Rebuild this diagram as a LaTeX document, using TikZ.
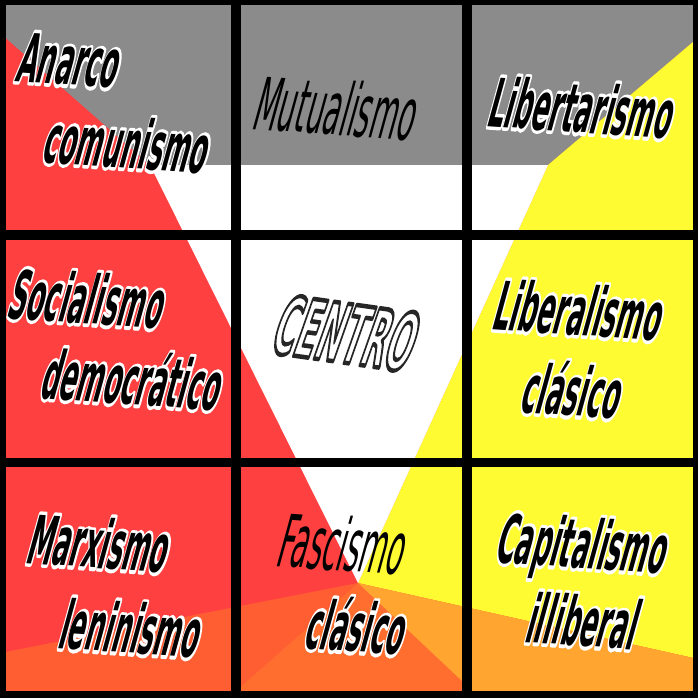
\documentclass[tikz,border=0pt]{standalone}
\usepackage{fontspec}
\newfontfamily\letra{DejaVu Sans}
\definecolor{gris}{HTML}{8B8B8B}
\definecolor{rojo}{HTML}{FF4040}
\definecolor{amarillo}{HTML}{FFFB33}
\definecolor{naranja}{HTML}{FF5E33}
\definecolor{naranjamedio}{HTML}{FF6E2E}
\definecolor{naranjaclaro}{HTML}{FFA530}
% black letters with a white fringe (stroked copy underneath)
\newcommand\halo[1]{\leavevmode\rlap{\color{white}%
  \special{pdf:literal direct 1 Tr 2.6 w 1 j}#1\special{pdf:literal direct 0 Tr}}#1}
% white letters with a dark edge
\newcommand\contorno[1]{\leavevmode{\color{white}%
  \special{pdf:literal direct 0.15 G 2 Tr 1.7 w 1 j}#1\special{pdf:literal direct 0 Tr}}}

\begin{document}
\begin{tikzpicture}[x=1pt, y=1pt,
    rotulo/.style={font=\letra\bfseries\fontsize{25.5}{30}\selectfont, inner sep=0pt,
      anchor=base west, rotate=#1, xslant=0.2, yscale=2.65, transform shape},
    rotulo/.default=-4]
    \useasboundingbox (0,0) rectangle (698,-698);
    \coordinate (A) at (358,-583);
    \coordinate (TL) at (150,-165);
    \coordinate (TR) at (548,-165);
    % colour fields
    \fill[rojo] (0,0) rectangle (698,-698);
    \fill[gris] (0,0) -- (698,0) -- (698,-37.7) -- (TR) -- (TL) -- (0,-33) -- cycle;
    \fill[amarillo] (698,-37.7) -- (TR) -- (A) -- (698,-659) -- cycle;
    \fill[white] (TL) -- (TR) -- (A) -- cycle;
    \fill[naranja] (A) -- (0,-653) -- (0,-698) -- (228,-698) -- cycle;
    \fill[naranjamedio] (A) -- (228,-698) -- (480,-698) -- cycle;
    \fill[naranjaclaro] (A) -- (480,-698) -- (698,-698) -- (698,-659) -- cycle;
    % frame and grid
    \fill (0,0) rectangle (698,-5);
    \fill (0,0) rectangle (6,-698);
    \fill (693,0) rectangle (698,-698);
    \fill (0,-691) rectangle (698,-698);
    \fill (231,0) rectangle (241,-698);
    \fill (462,0) rectangle (472,-698);
    \fill (0,-230) rectangle (698,-240);
    \fill (0,-458) rectangle (698,-467);
    % labels
    \node[rotulo] (anarco) at (14,-81) {\halo{Anarco}};
    \node[rotulo] (comunismo) at (40,-162) {\halo{comunismo}};
    \node[rotulo, font=\letra\fontsize{27.6}{30}\selectfont] (mutualismo) at (250,-129) {Mutualismo};
    \node[rotulo] (libertarismo) at (485,-126) {\halo{Libertarismo}};
    \node[rotulo] (socialismo) at (5,-318) {\halo{Socialismo}};
    \node[rotulo] (democratico) at (38,-398) {\halo{democrático}};
    \node[rotulo=-8, font=\letra\bfseries\fontsize{30.5}{32}\selectfont] (centro) at (268,-352) {\contorno{CENTRO}};
    \node[rotulo] (liberalismo) at (490,-329) {\halo{Liberalismo}};
    \node[rotulo] (clasico1) at (518,-412) {\halo{clásico}};
    \node[rotulo] (marxismo) at (24,-563) {\halo{Marxismo}};
    \node[rotulo] (leninismo) at (56,-648) {\halo{leninismo}};
    \node[rotulo, font=\letra\fontsize{27.6}{30}\selectfont] (fascismo) at (274,-566) {Fascismo};
    \node[rotulo] (clasico2) at (302,-648) {\halo{clásico}};
    \node[rotulo] (capitalismo) at (493,-562) {\halo{Capitalismo}};
    \node[rotulo] (iliberal) at (523,-642) {\halo{illiberal}};
\end{tikzpicture}
\end{document}
